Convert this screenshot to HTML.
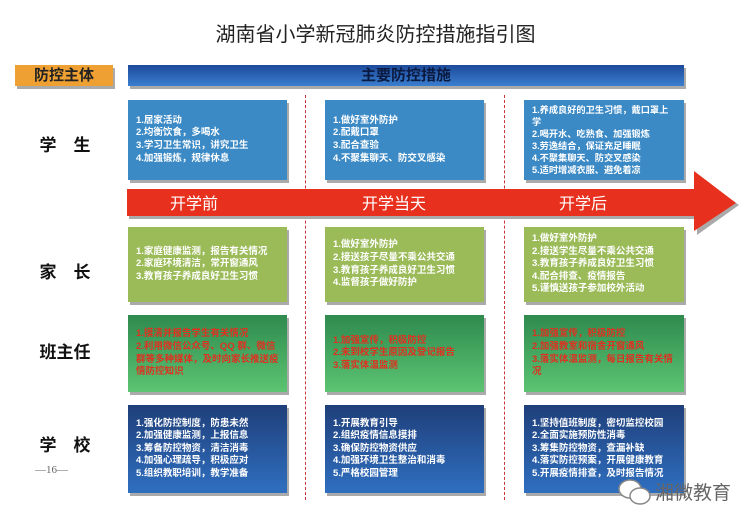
<!DOCTYPE html>
<html><head><meta charset="utf-8"><style>
*{margin:0;padding:0;box-sizing:border-box}
body{width:751px;height:525px;background:#fff;position:relative;overflow:hidden;font-family:"Liberation Sans","Noto Sans CJK SC",sans-serif}
.a{position:absolute}
.title{left:0;width:751px;top:18px;text-align:center;font-size:20px;color:#222}
.lab{left:30px;width:70px;text-align:center;font-size:17px;font-weight:bold;color:#111;letter-spacing:0}
.box{position:absolute;box-shadow:2px 3px 0 #aaa;padding:0 8px;font-size:9.5px;font-weight:bold;line-height:12.6px;color:#fff;display:flex;flex-direction:column;justify-content:center}
.r1{background:#3b8ac6}
.r2{background:#9bbb59}
.r3{background:linear-gradient(#2e8a4e,#5cc472);color:#e03020}
.r4{background:linear-gradient(#1f3f7a,#2f6fc0)}
.dash{position:absolute;top:95px;height:405px;border-left:1.5px dashed #c8343a;width:0}
</style></head><body>
<div class="a title">湖南省小学新冠肺炎防控措施指引图</div>
<div class="a" style="left:15px;top:65px;width:98px;height:21px;background:#eea032;box-shadow:2px 3px 0 #aaa;text-align:center;font-size:15px;font-weight:bold;line-height:21px;color:#222">防控主体</div>
<div class="a" style="left:128px;top:65px;width:556px;height:21px;background:linear-gradient(#1d4a9a,#3a7fd0);box-shadow:2px 3px 0 #aaa;text-align:center;font-size:15px;font-weight:bold;line-height:21px;color:#0b1a40">主要防控措施</div>

<div class="a lab" style="top:131px">学　生</div>
<div class="a lab" style="top:258px">家　长</div>
<div class="a lab" style="top:338px">班主任</div>
<div class="a lab" style="top:431px">学　校</div>
<div class="a" style="left:35px;top:464px;font-size:11px;color:#666;font-family:'Liberation Serif',serif">—16—</div>

<div class="dash" style="left:305px"></div>
<div class="dash" style="left:504px"></div>

<div class="box r1" style="left:128px;top:100px;width:159px;height:80px">1.居家活动<br>2.均衡饮食，多喝水<br>3.学习卫生常识，讲究卫生<br>4.加强锻炼，规律休息</div>
<div class="box r1" style="left:325px;top:100px;width:159px;height:80px">1.做好室外防护<br>2.配戴口罩<br>3.配合查验<br>4.不聚集聊天、防交叉感染</div>
<div class="box r1" style="left:524px;top:100px;width:160px;height:80px;line-height:12px;font-size:9.2px">1.养成良好的卫生习惯，戴口罩上学<br>2.喝开水、吃熟食、加强锻炼<br>3.劳逸结合，保证充足睡眠<br>4.不聚集聊天、防交叉感染<br>5.适时增减衣服、避免着凉</div>

<svg class="a" style="left:124px;top:170px" width="620" height="66">
<polygon points="4,21 572,21 572,3 614,33 572,63 572,47 4,47" fill="#aaa" transform="translate(1,2)"/>
<polygon points="3,19 570,19 570,1 612,33 570,61 570,46 3,46" fill="#e8301e"/>
<text x="70" y="39" fill="#fff" font-size="16" text-anchor="middle" font-family="Liberation Sans,Noto Sans CJK SC,sans-serif">开学前</text>
<text x="270" y="39" fill="#fff" font-size="16" text-anchor="middle" font-family="Liberation Sans,Noto Sans CJK SC,sans-serif">开学当天</text>
<text x="459" y="39" fill="#fff" font-size="16" text-anchor="middle" font-family="Liberation Sans,Noto Sans CJK SC,sans-serif">开学后</text>
</svg>

<div class="box r2" style="left:128px;top:227px;width:159px;height:75px">1.家庭健康监测，报告有关情况<br>2.家庭环境清洁，常开窗通风<br>3.教育孩子养成良好卫生习惯</div>
<div class="box r2" style="left:325px;top:227px;width:159px;height:75px">1.做好室外防护<br>2.接送孩子尽量不乘公共交通<br>3.教育孩子养成良好卫生习惯<br>4.监督孩子做好防护</div>
<div class="box r2" style="left:524px;top:227px;width:160px;height:75px">1.做好室外防护<br>2.接送学生尽量不乘公共交通<br>3.教育孩子养成良好卫生习惯<br>4.配合排查、疫情报告<br>5.谨慎送孩子参加校外活动</div>

<div class="box r3" style="left:128px;top:315px;width:159px;height:77px">1.摸清并报告学生有关情况<br>2.利用微信公众号、QQ 群、微信群等多种媒体，及时向家长推送疫情防控知识</div>
<div class="box r3" style="left:325px;top:315px;width:159px;height:77px">1.加强宣传，积极防控<br>2.未到校学生原因及登记报告<br>3.落实体温监测</div>
<div class="box r3" style="left:524px;top:315px;width:160px;height:77px">1.加强宣传，积极防控<br>2.加强教室和宿舍开窗通风<br>3.落实体温监测，每日报告有关情况</div>

<div class="box r4" style="left:128px;top:405px;width:159px;height:88px">1.强化防控制度，防患未然<br>2.加强健康监测，上报信息<br>3.筹备防控物资，清洁消毒<br>4.加强心理疏导，积极应对<br>5.组织教职培训，教学准备</div>
<div class="box r4" style="left:325px;top:405px;width:159px;height:88px">1.开展教育引导<br>2.组织疫情信息摸排<br>3.确保防控物资供应<br>4.加强环境卫生整治和消毒<br>5.严格校园管理</div>
<div class="box r4" style="left:524px;top:405px;width:160px;height:88px">1.坚持值班制度，密切监控校园<br>2.全面实施预防性消毒<br>3.筹集防控物资，查漏补缺<br>4.落实防控预案，开展健康教育<br>5.开展疫情排查，及时报告情况</div>

<svg class="a" style="left:617px;top:478px" width="36" height="28"><ellipse cx="13" cy="11" rx="11" ry="9" fill="#fff" stroke="#888" stroke-width="1.5"/><ellipse cx="23" cy="18" rx="10" ry="8" fill="#fff" stroke="#888" stroke-width="1.5"/></svg>
<div class="a" style="left:655px;top:478px;font-size:19px;color:#666">湘微教育</div>
</body></html>
